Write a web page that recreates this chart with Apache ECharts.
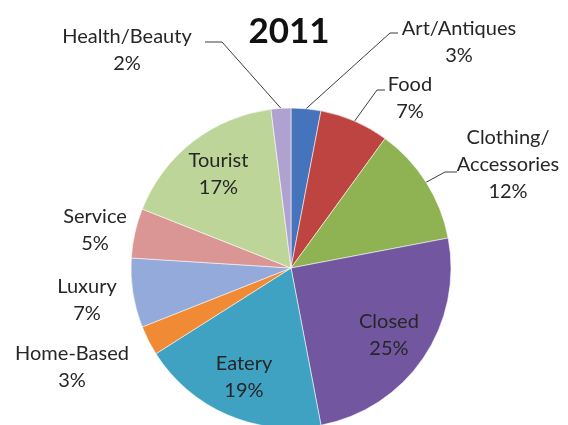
<!DOCTYPE html>
<html>
<head>
<meta charset="utf-8">
<title>2011</title>
<script src="https://cdn.jsdelivr.net/npm/echarts@6/dist/echarts.min.js"></script>
<style>
  html, body { margin: 0; padding: 0; background: #ffffff; }
  #chart { width: 568px; height: 425px; }
</style>
</head>
<body>
<div id="chart"></div>
<script>
// Business categories, clockwise from twelve o'clock
const categories = [
  'Art/Antiques', 'Food', 'Clothing/\nAccessories', 'Closed', 'Eatery',
  'Home-Based', 'Luxury', 'Service', 'Tourist', 'Health/Beauty'
];
// Share of each category, in percent
const shares = [3, 7, 12, 25, 19, 3, 7, 5, 17, 2];
const sliceColors = [
  '#4674bc', '#be4441', '#8fb352', '#7257a0', '#3fa2c3',
  '#f08a35', '#93aada', '#da9694', '#bed59a', '#afa2d0'
];

// Pie geometry
const pieCenter = [291, 268];
const pieRadius = 160;

// Labels drawn inside their slices, at this fraction of the radius
const insideLabels = ['Closed', 'Eatery', 'Tourist'];
const insideRatio = 0.74;

// Labels set beside the pie; "lead" gives the elbow and end of the leader line
const outsideLabels = {
  'Art/Antiques': { at: [459, 42], lead: [[390, 33], [398, 33]] },
  'Food': { at: [410, 98], lead: [[377, 90], [385, 90]] },
  'Clothing/\nAccessories': { at: [508, 165], lead: [[445, 172], [457, 172]] },
  'Home-Based': { at: [72, 367] },
  'Luxury': { at: [87, 300] },
  'Service': { at: [95, 230] },
  'Health/Beauty': { at: [127, 50], lead: [[222, 42], [205, 42]] }
};

const total = shares.reduce((a, b) => a + b, 0);

// Point at distance d from the centre, along the middle of slice i
function slicePoint(i, d) {
  let before = 0;
  for (let k = 0; k < i; k++) before += shares[k];
  const theta = (before + shares[i] / 2) / total * Math.PI * 2;
  return [pieCenter[0] + d * Math.sin(theta), pieCenter[1] - d * Math.cos(theta)];
}

const pieData = categories.map((name, i) => {
  const spot = outsideLabels[name];
  return {
    name: name,
    value: shares[i],
    itemStyle: { color: sliceColors[i] },
    labelLine: { show: !!(spot && spot.lead) }
  };
});

const chart = echarts.init(document.getElementById('chart'), null, { renderer: 'canvas' });

chart.setOption({
  backgroundColor: '#ffffff',
  animation: false,
  title: {
    text: '2011',
    left: 289,
    top: 14,
    padding: 0,
    textAlign: 'center',
    textStyle: {
      fontFamily: 'Lato',
      fontWeight: 'bold',
      fontSize: 35,
      color: '#111111'
    }
  },
  series: [{
    type: 'pie',
    center: pieCenter,
    radius: pieRadius,
    startAngle: 90,
    clockwise: true,
    avoidLabelOverlap: false,
    data: pieData,
    itemStyle: {
      borderColor: 'rgba(255,255,255,0.55)',
      borderWidth: 1
    },
    label: {
      show: true,
      position: 'outside',
      formatter: p => p.name + '\n' + p.value + '%',
      fontFamily: 'Lato',
      fontSize: 20,
      lineHeight: 27,
      color: '#262626',
      align: 'center'
    },
    labelLine: {
      show: true,
      lineStyle: { color: '#3c3c3c', width: 1 }
    },
    labelLayout: function (params) {
      const i = params.dataIndex;
      const name = categories[i];
      if (insideLabels.indexOf(name) >= 0) {
        const p = slicePoint(i, pieRadius * insideRatio);
        return { x: p[0], y: p[1], align: 'center', verticalAlign: 'middle' };
      }
      const spot = outsideLabels[name];
      const out = { x: spot.at[0], y: spot.at[1], align: 'center', verticalAlign: 'middle' };
      if (spot.lead) {
        out.labelLinePoints = [slicePoint(i, pieRadius), spot.lead[0], spot.lead[1]];
      }
      return out;
    }
  }]
});
</script>
</body>
</html>
